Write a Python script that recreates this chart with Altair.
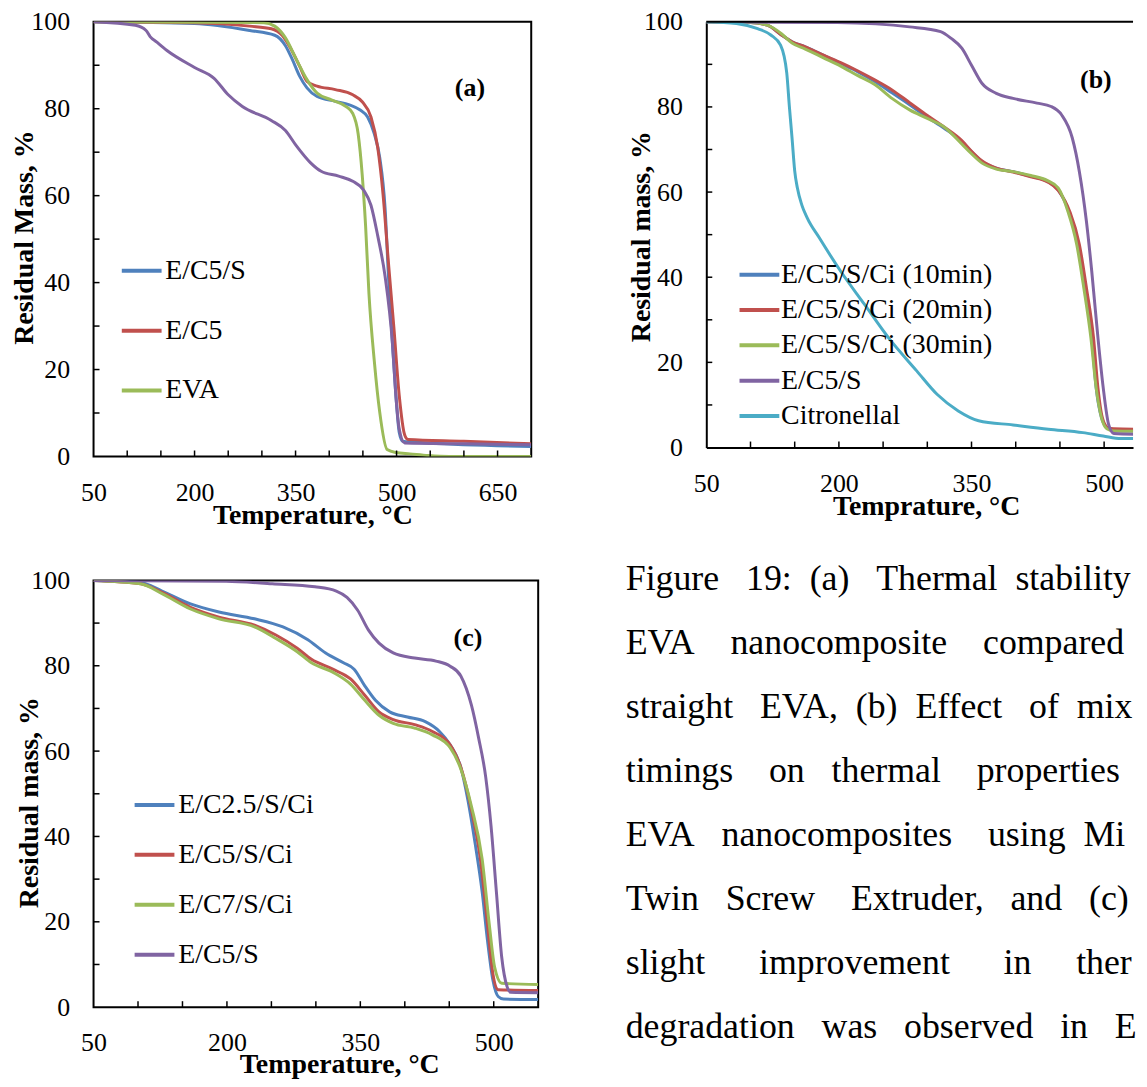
import altair as alt
import pandas as pd

FONT = "Liberation Serif"
BLUE, RED, GREEN, PURPLE, CYAN = "#4F81BD", "#C0504D", "#9BBB59", "#8064A2", "#4BACC6"

# ---------------- Panel (a) ----------------
A_NAMES = ["E/C5/S", "E/C5", "EVA", "E/C5/S/Ci"]
A_LEGEND = ["E/C5/S", "E/C5", "EVA"]
A_BLUE_T = [50, 200, 282, 319, 335, 345, 356, 367, 382, 409, 430, 446, 457, 467, 475, 483, 488, 494, 499, 504, 509, 547, 700]
A_BLUE_M = [100, 99.6, 98, 96.9, 94.5, 91.4, 87.5, 84.8, 82.8, 81.7, 80.9, 79.7, 78.1, 74.2, 68.8, 57, 41.4, 25.8, 14, 5.5, 3.5, 3.1, 2.3]
A_RED_T = [50, 200, 282, 314, 330, 343, 356, 367, 382, 409, 435, 449, 462, 472, 480, 488, 496, 504, 512, 517, 600, 700]
A_RED_M = [100, 99.8, 99, 98.4, 96.9, 93.8, 89.8, 86.3, 85.2, 84.4, 83.2, 81.6, 78.1, 71.1, 60.2, 44.5, 29.7, 14, 5, 3.9, 3.5, 2.9]
A_GREEN_T = [50, 303, 319, 335, 351, 367, 382, 404, 425, 435, 443, 449, 454, 459, 467, 475, 486, 499, 520, 547, 578, 700]
A_GREEN_M = [100, 99.8, 99, 96.3, 91.4, 86.7, 83.6, 82, 80.5, 78.9, 74.2, 64.8, 53.1, 37.5, 21.9, 10.2, 1.6, 0.9, 0.6, 0.2, 0, 0]
A_PURPLE_T = [50, 112, 128, 134, 144, 159, 200, 229, 250, 271, 314, 335, 351, 372, 388, 414, 435, 451, 462, 472, 483, 494, 499, 504, 512, 600, 700]
A_PURPLE_M = [100, 99.2, 98, 96.6, 95.3, 93.4, 89.5, 87, 83.2, 80.5, 77.3, 75, 71.5, 67.6, 65.6, 64.5, 63.3, 61.3, 57.8, 50.8, 41.4, 25.8, 14, 6.3, 3.1, 2.9, 2.7]

# ---------------- Panel (b) ----------------
B_NAMES = ["E/C5/S/Ci (10min)", "E/C5/S/Ci (20min)", "E/C5/S/Ci (30min)", "E/C5/S", "Citronellal"]
B_BLUE_T = [50, 100, 119, 135, 147, 162, 182, 202, 221, 241, 260, 280, 300, 319, 339, 350, 362, 378, 397, 417, 436, 448, 460, 470, 478, 486, 491, 497, 503, 511, 542]
B_BLUE_M = [100, 99.8, 99.2, 96.9, 95.3, 94.1, 92.2, 90.2, 88.3, 85.9, 83.3, 80.5, 77.6, 75, 71.9, 69.5, 67.2, 65.6, 64.8, 63.7, 62.5, 60.5, 55.5, 47.7, 37.5, 25.8, 14, 7, 4.7, 4.0, 3.9]
B_RED_T = [50, 100, 119, 135, 147, 162, 182, 202, 221, 241, 260, 280, 300, 319, 339, 350, 362, 378, 397, 417, 436, 448, 461, 472, 480, 488, 493, 498, 504, 511, 542]
B_RED_M = [100, 99.8, 99.2, 96.9, 95.3, 94.1, 92.2, 90.4, 88.5, 86.3, 84.0, 81.0, 78.0, 75.3, 72.1, 69.6, 67.3, 65.6, 64.7, 63.6, 62.4, 60.4, 55.5, 47.7, 37.5, 25.8, 14, 7, 4.7, 4.4, 4.3]
B_GREEN_T = [50, 100, 119, 135, 147, 162, 182, 202, 221, 241, 260, 280, 300, 319, 339, 350, 362, 378, 397, 417, 436, 448, 459, 469, 477, 485, 491, 497, 503, 511, 542]
B_GREEN_M = [100, 99.8, 99.2, 97.2, 95.0, 93.6, 91.6, 89.6, 87.4, 85.2, 82.0, 79.3, 77.3, 75.3, 71.3, 69.0, 66.8, 65.4, 64.8, 63.9, 62.7, 61.0, 55.5, 47.7, 37.5, 25.8, 14, 7, 4.4, 3.9, 3.8]
B_PURPLE_T = [50, 198, 280, 315, 327, 339, 350, 362, 378, 397, 424, 440, 452, 464, 472, 480, 486, 493, 499, 505, 511, 542]
B_PURPLE_M = [100, 99.8, 98.8, 97.7, 96.1, 93.8, 89.8, 85.5, 83.2, 82, 80.9, 80.1, 78.1, 72.7, 64.8, 53.1, 41.4, 25.8, 14, 5.5, 3.3, 3.1]
B_CYAN_T = [50, 84, 108, 123, 134, 141, 144, 147, 150, 153, 158, 164, 178, 202, 229, 256, 288, 311, 335, 358, 397, 437, 476, 499, 519, 542]
B_CYAN_M = [100, 99.6, 98.4, 96.9, 94.5, 88, 80, 72.7, 65, 61, 57, 54, 49.2, 41.4, 33.6, 25.8, 18, 12.5, 8.6, 6.3, 5.3, 4.3, 3.5, 2.7, 2.1, 2.1]

# ---------------- Panel (c) ----------------
C_NAMES = ["E/C2.5/S/Ci", "E/C5/S/Ci", "E/C7/S/Ci", "E/C5/S"]
C_BLUE_T = [50, 103, 127, 159, 191, 231, 263, 291, 311, 331, 343, 355, 367, 383, 403, 423, 439, 451, 463, 471, 479, 487, 493, 499, 505, 511, 550]
C_BLUE_M = [100, 99.5, 97.5, 94.5, 92.6, 91, 89.1, 86.1, 83, 80.7, 79.2, 75.3, 71.9, 69.2, 68, 66.9, 64.6, 61.5, 56.2, 48.5, 38.5, 27, 15.6, 6.4, 2.5, 1.9, 1.8]
C_RED_T = [50, 103, 127, 159, 191, 231, 255, 279, 295, 319, 339, 355, 371, 387, 411, 431, 451, 463, 475, 485, 493, 499, 505, 550]
C_RED_M = [100, 99.2, 97.2, 93.7, 91.4, 89.5, 87.2, 84.1, 81.5, 79.2, 76.9, 73.1, 69.2, 67.4, 66.2, 64.6, 61.5, 56.2, 46.2, 34.7, 19.4, 7.9, 4.1, 3.9]
C_GREEN_T = [50, 103, 127, 159, 191, 231, 255, 279, 295, 319, 339, 355, 371, 387, 411, 431, 451, 463, 475, 487, 495, 501, 509, 550]
C_GREEN_M = [100, 99.2, 96.9, 93.3, 91, 89.1, 86.4, 83.3, 80.7, 78.5, 75.7, 71.9, 68.4, 66.5, 65.4, 63.8, 60.8, 55.8, 47, 34.7, 19.4, 9.4, 5.6, 5.3]
C_PURPLE_T = [50, 199, 251, 299, 323, 335, 347, 359, 371, 387, 411, 435, 451, 463, 475, 483, 491, 497, 503, 509, 515, 519, 550]
C_PURPLE_M = [100, 99.8, 99.2, 98.5, 97.5, 96, 93, 88.4, 85.3, 83, 81.8, 81.1, 79.9, 77.6, 70.7, 63.1, 53.9, 42.4, 27, 11.7, 4.8, 3.5, 3.4]

# ---------------- ticks / labels ----------------
Y_LABELS = [0, 20, 40, 60, 80, 100]
Y_TICKS = [10, 20, 30, 40, 50, 60, 70, 80, 90]
A_X_LABELS = [50, 200, 350, 500, 650]
A_X_TICKS = [100, 150, 200, 250, 300, 350, 400, 450, 500, 550, 600, 650]
BC_X_LABELS = [50, 200, 350, 500]
BC_X_TICKS = [100, 150, 200, 250, 300, 350, 400, 450, 500]

# caption: the part of each justified line that is visible inside the picture
N = "\u00a0"
CAPTION = [
    "Figure" + N * 3 + "19:" + N * 2 + "(a)" + N * 3 + "Thermal" + N * 2 + "stability",
    "EVA" + N * 4 + "nanocomposite" + N * 4 + "compared",
    "straight" + N * 3 + "EVA," + N * 2 + "(b)" + N * 2 + "Effect" + N * 3 + "of" + N * 2 + "mix",
    "timings" + N * 4 + "on" + N * 3 + "thermal" + N * 4 + "properties",
    "EVA" + N * 3 + "nanocomposites" + N * 4 + "using" + N * 2 + "Mi",
    "Twin" + N * 3 + "Screw" + N * 4 + "Extruder," + N * 3 + "and" + N * 3 + "(c)",
    "slight" + N * 6 + "improvement" + N * 6 + "in" + N * 5 + "ther",
    "degradation" + N * 3 + "was" + N * 3 + "observed" + N * 3 + "in" + N * 3 + "E",
    "with 2.5 wt.% of clay.",
]


def frame(series):
    rows = []
    for name, ts, ms in series:
        for t, m in zip(ts, ms):
            rows.append({"series": name, "T": t, "M": m})
    return pd.DataFrame(rows)


def panel(df, names, colors, legend_vals, xdom, xlabels, xticks, w, h,
          ytitle, xtitle, xtitle_x, xtitle_y, ytitle_x, ytitle_y,
          lx, ly, loff, rpad, tag, tag_t, tag_m, boxed=True):
    xs = alt.Scale(domain=xdom, nice=False, zero=False)
    ys = alt.Scale(domain=[0, 100], nice=False)
    cs = alt.Scale(domain=names, range=colors)
    xaxis = alt.Axis(values=xlabels, ticks=False, labelPadding=23, labelFlush=False,
                     title=xtitle, titleX=xtitle_x, titleY=xtitle_y,
                     titleBaseline="alphabetic", titleAlign="center",
                     domain=not boxed, domainColor="black", domainWidth=2)
    yaxis = alt.Axis(values=Y_LABELS, ticks=False, labelPadding=24,
                     title=ytitle, titleX=ytitle_x, titleY=ytitle_y, titleAngle=270,
                     titleBaseline="alphabetic", titleAlign="center",
                     domain=not boxed, domainColor="black", domainWidth=2)
    legend = alt.Legend(title=None, orient="none", legendX=lx, legendY=ly, padding=0,
                        symbolType="M-2,0H2", symbolSize=400, symbolStrokeWidth=4,
                        labelFont=FONT, labelFontSize=28, labelColor="black",
                        labelOffset=loff, rowPadding=rpad, labelLimit=500,
                        values=legend_vals)
    X = alt.X("T:Q", scale=xs, axis=xaxis)
    Y = alt.Y("M:Q", scale=ys, axis=yaxis)
    lines = alt.Chart(df).mark_line(strokeWidth=3, interpolate="monotone", clip=True).encode(
        x=X, y=Y, color=alt.Color("series:N", scale=cs, legend=legend))
    xt = alt.Chart(pd.DataFrame({"T": xticks})).mark_rule(color="black", strokeWidth=1.5).encode(
        x=X, y=alt.value(h), y2=alt.value(h - 6))
    yt = alt.Chart(pd.DataFrame({"M": Y_TICKS})).mark_rule(color="black", strokeWidth=1.5).encode(
        y=Y, x=alt.value(0), x2=alt.value(6))
    lab = alt.Chart(pd.DataFrame({"T": [tag_t], "M": [tag_m], "tag": [tag]})).mark_text(
        font=FONT, fontSize=26, fontWeight="bold", color="black").encode(x=X, y=Y, text="tag:N")
    layers = [lines, xt, yt, lab]
    if not boxed:
        top = alt.Chart(pd.DataFrame({"k": [0]})).mark_rule(color="black", strokeWidth=2).encode(
            x=alt.value(0), x2=alt.value(w), y=alt.value(0))
        layers.append(top)
        return alt.layer(*layers).properties(width=w, height=h,
                                             view=alt.ViewBackground(stroke="transparent"))
    return alt.layer(*layers).properties(width=w, height=h)


dfA = frame([("E/C5/S", A_BLUE_T, A_BLUE_M), ("E/C5", A_RED_T, A_RED_M),
             ("EVA", A_GREEN_T, A_GREEN_M), ("E/C5/S/Ci", A_PURPLE_T, A_PURPLE_M)])
dfB = frame([(B_NAMES[0], B_BLUE_T, B_BLUE_M), (B_NAMES[1], B_RED_T, B_RED_M),
             (B_NAMES[2], B_GREEN_T, B_GREEN_M), (B_NAMES[3], B_PURPLE_T, B_PURPLE_M),
             (B_NAMES[4], B_CYAN_T, B_CYAN_M)])
dfC = frame([(C_NAMES[0], C_BLUE_T, C_BLUE_M), (C_NAMES[1], C_RED_T, C_RED_M),
             (C_NAMES[2], C_GREEN_T, C_GREEN_M), (C_NAMES[3], C_PURPLE_T, C_PURPLE_M)])

A = panel(dfA, A_NAMES, [BLUE, RED, GREEN, PURPLE], A_LEGEND, [50, 700], A_X_LABELS, A_X_TICKS,
          440, 437, "Residual Mass, %", "Temperature, °C", 220, 67, -61.5, 216.5,
          34.4, 236.4, 9.6, 32.1, "(a)", 609, 84.7)
B = panel(dfB, B_NAMES, [BLUE, RED, GREEN, PURPLE, CYAN], B_NAMES, [50, 532.7], BC_X_LABELS, BC_X_TICKS,
          429, 428, "Residual mass, %", "Temprature, °C", 221, 67, -57, 215.5,
          39.4, 240.3, 7.8, 7.5, "(b)", 490.6, 86.2, boxed=False)
C = panel(dfC, C_NAMES, [BLUE, RED, GREEN, PURPLE], C_NAMES, [50, 550], BC_X_LABELS, BC_X_TICKS,
          447, 429, "Residual mass, %", "Temperature, °C", 247, 66, -56.5, 223,
          47.3, 211.7, 9.9, 22.2, "(c)", 471, 86.5)

cap_df = pd.DataFrame({"line": list(range(len(CAPTION))), "text": CAPTION})
cap_y = alt.Y("line:Q", scale=alt.Scale(domain=[0, 8], range=[10, 524.4]), axis=None)
cap_main = alt.Chart(cap_df).transform_filter(alt.datum.line < 8).mark_text(
    font=FONT, fontSize=36, align="left", baseline="alphabetic", color="black"
).encode(x=alt.value(0), y=cap_y, text="text:N")
cap_last = alt.Chart(cap_df).transform_filter(alt.datum.line >= 8).mark_text(
    font=FONT, fontSize=36, align="left", baseline="alphabetic", clip=True, color="black"
).encode(x=alt.value(0), y=cap_y, text="text:N")
TXT = alt.layer(cap_main, cap_last).properties(
    width=515, height=498, view=alt.ViewBackground(stroke="transparent"))

row1 = alt.hconcat(A, B, spacing=176, bounds="flush").resolve_scale(color="independent")
row2 = alt.hconcat(C, TXT, spacing=88, bounds="flush").resolve_scale(color="independent")
chart = alt.vconcat(row1, row2, spacing=30.6, bounds="full").resolve_scale(
    color="independent"
).properties(
    padding={"left": 1, "top": -3, "right": 0, "bottom": 0}
).configure_view(
    stroke="black", strokeWidth=2
).configure_axis(
    labelFont=FONT, labelFontSize=26, labelColor="black",
    titleFont=FONT, titleFontSize=28, titleFontWeight="bold", titleColor="black",
    grid=False, ticks=False
)

chart.save("out.html", embed_options={"renderer": "svg", "actions": False})
